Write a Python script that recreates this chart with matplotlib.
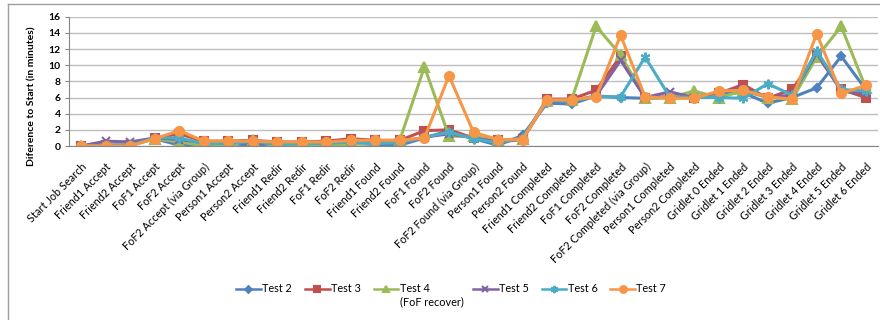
import matplotlib.pyplot as plt
from matplotlib.lines import Line2D

plt.rcParams['font.family'] = ['Lato', 'DejaVu Sans']

events = [
    "Start Job Search", "Friend1 Accept", "Friend2 Accept", "FoF1 Accept",
    "FoF2 Accept", "FoF2 Accept (via Group)", "Person1 Accept", "Person2 Accept",
    "Friend1 Redir", "Friend2 Redir", "FoF1 Redir", "FoF2 Redir",
    "Friend1 Found", "Friend2 Found", "FoF1 Found", "FoF2 Found",
    "FoF2 Found (via Group)", "Person1 Found", "Person2 Found",
    "Friend1 Completed", "Friend2 Completed", "FoF1 Completed", "FoF2 Completed",
    "FoF2 Completed (via Group)", "Person1 Completed", "Person2 Completed",
    "Gridlet 0 Ended", "Gridlet 1 Ended", "Gridlet 2 Ended", "Gridlet 3 Ended",
    "Gridlet 4 Ended", "Gridlet 5 Ended", "Gridlet 6 Ended",
]

test2 = [0, 0.1, 0.1, 0.9, 0.1, 0.3, 0.3, 0.1, 0.3, 0.2, 0.2, 0.3, 0.2, 0.1, 1.0, 1.9, 0.9,
         0.1, 1.3, 5.3, 5.2, 6.2, 6.0, 5.9, 6.0, 6.0, 6.5, 6.6, 5.3, 6.0, 7.2, 11.1, 7.0]
test3 = [0, 0.1, 0.1, 1.0, 1.5, 0.6, 0.6, 0.7, 0.5, 0.5, 0.6, 0.9, 0.7, 0.7, 1.9, 2.0, 1.0,
         0.7, 0.9, 5.8, 5.8, 6.9, 11.1, 6.0, 6.1, 6.0, 6.5, 7.6, 5.9, 7.0, 11.3, 7.0, 6.0]
test4 = [0, 0.1, 0.1, 0.9, 0.5, 0.05, 0.05, 0.8, 0.0, 0.05, 0.05, 0.2, 0.4, 0.8, 9.8, 1.2, 1.2,
         0.7, 0.9, 5.6, 5.7, 14.8, 11.3, 5.9, 6.0, 6.8, 6.0, 6.8, 6.0, 5.8, 11.0, 14.8, 7.2]
test5 = [0, 0.6, 0.5, 1.0, 0.8, 0.4, 0.4, 0.5, 0.3, 0.4, 0.4, 0.6, 0.4, 0.5, 1.1, 1.5, 1.0,
         0.5, 0.8, 5.6, 5.6, 6.2, 10.6, 6.0, 6.7, 6.0, 6.6, 7.2, 6.0, 6.3, 11.5, 6.8, 6.5]
test6 = [0, 0.1, 0.1, 1.0, 1.0, 0.3, 0.3, 0.6, 0.2, 0.3, 0.3, 0.5, 0.3, 0.4, 1.1, 1.7, 0.9,
         0.4, 1.0, 5.6, 5.6, 6.1, 6.1, 11.0, 6.1, 6.0, 6.0, 5.9, 7.7, 6.3, 11.8, 7.0, 6.8]
test7 = [0, 0, 0, 0.9, 1.9, 0.6, 0.6, 0.6, 0.5, 0.5, 0.5, 0.7, 0.7, 0.7, 1.0, 8.7, 1.7,
         0.8, 0.8, 5.7, 5.7, 6.1, 13.7, 6.1, 5.9, 5.9, 6.8, 6.9, 6.1, 5.8, 13.9, 6.5, 7.5]

series = [
    ("Test 2", test2, "#4F81BD", "D", 4.5),
    ("Test 3", test3, "#C0504D", "s", 5.5),
    ("Test 4", test4, "#9BBB59", "^", 6.5),
    ("Test 5", test5, "#8064A2", "x", 6),
    ("Test 6", test6, "#4BACC6", (6, 2, 0), 7),
    ("Test 7", test7, "#F79646", "o", 6.5),
]

fig = plt.figure(figsize=(8.8, 3.2), dpi=100)
ax = fig.add_axes([69 / 880, 1 - 146 / 320, (878 - 69) / 880, (146 - 16.7) / 320])

x = list(range(len(events)))
handles = []
for name, vals, color, marker, ms in series:
    h, = ax.plot(x, vals, color=color, lw=2.2, marker=marker, ms=ms, mew=1.5,
                 mec=color, mfc=color)
    handles.append(h)

ax.set_xlim(-0.5, len(events) - 0.5)
ax.set_ylim(0, 16)
ax.set_yticks(range(0, 17, 2))
ax.yaxis.grid(True, color="#BEBEBE", lw=1)
ax.set_axisbelow(True)
for s in ("top", "right"):
    ax.spines[s].set_visible(False)
for s in ("left", "bottom"):
    ax.spines[s].set_color("#868686")
ax.tick_params(axis="y", length=3, color="#868686", labelsize=7.5, pad=3)
ax.tick_params(axis="x", length=0, pad=11)
for lbl in ax.get_yticklabels():
    lbl.set_fontweight("bold")
ax.set_xticks(x)
ax.set_xticklabels(events, rotation=45, ha="right", va="top",
                   rotation_mode="anchor", fontsize=7.8)

fig.text(32 / 880, 1 - 96 / 320, "Diference to Start (in minutes)", rotation=90,
         ha="center", va="center", fontsize=7.5, fontweight="bold")

# Test 4 gets a second legend line, so its column is padded wider
labels = [s[0] for s in series]
labels[2] = "Test 4" + " " * 11
leg = ax.legend(handles, labels, loc="center", bbox_to_anchor=(451 / 880, 1 - 289 / 320),
                bbox_transform=fig.transFigure, ncol=6, frameon=False, fontsize=7.8,
                handlelength=2.3, handletextpad=0.1, columnspacing=1.2, markerscale=0.75)
for lh in leg.get_lines():
    lh.set_linewidth(1.8)

fig.canvas.draw()
t4 = leg.get_texts()[2].get_window_extent()
fig.text(t4.x0 / fig.bbox.width, (t4.y0 - 2) / fig.bbox.height, "(FoF recover)",
         ha="left", va="top", fontsize=7.8)

# chart area frame (left and top edges)
fig.add_artist(Line2D([8 / 880, 8 / 880], [0, 1 - 4 / 320], color="#A0A0A0", lw=1,
                      transform=fig.transFigure))
fig.add_artist(Line2D([8 / 880, 1], [1 - 4 / 320, 1 - 4 / 320], color="#A0A0A0", lw=1,
                      transform=fig.transFigure))

fig.savefig("out.png", dpi=100)
